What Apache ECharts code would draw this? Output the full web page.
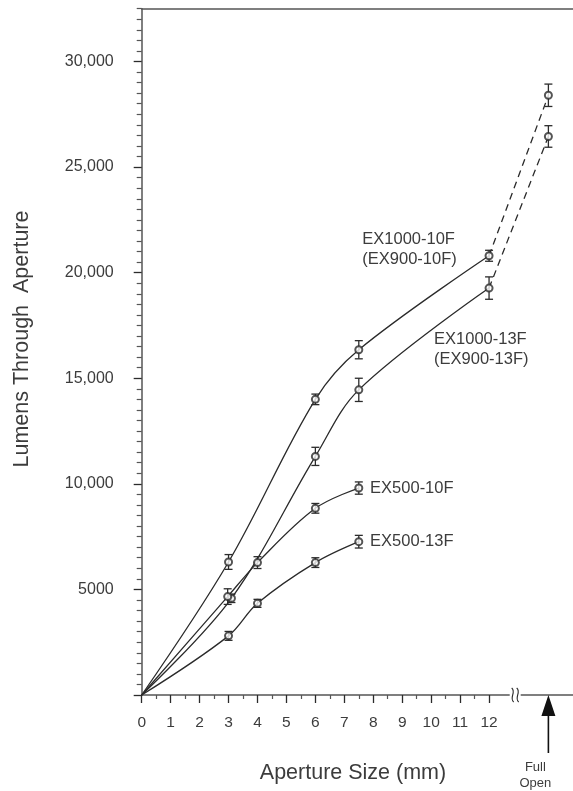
<!DOCTYPE html>
<html>
<head>
<meta charset="utf-8">
<script src="https://cdn.jsdelivr.net/npm/echarts@6/dist/echarts.min.js"></script>
<style>
html,body{margin:0;padding:0;background:#fff;}
#chart{width:573px;height:791px;}
</style>
</head>
<body>
<div id="chart"></div>
<script>
// ---- data ----
const xTickValues = [0,1,2,3,4,5,6,7,8,9,10,11,12];
const xMinorTickValues = [0.5,1.5,2.5,3.5,4.5,5.5,6.5,7.5,8.5,9.5,10.5,11.5];
const yTickValues = [0,5000,10000,15000,20000,25000,30000];
const yTickLabels = ['', '5000', '10,000', '15,000', '20,000', '25,000', '30,000'];
const fullOpenX = 14.05;

const apertureSizes_EX1000_10F = [0, 3, 6, 7.5, 12];
const lumens_EX1000_10F = [0, 6300, 14000, 16350, 20800];
const errors_EX1000_10F = [0, 350, 250, 430, 260];
const fullOpen_EX1000_10F = 28400;
const fullOpenErr_EX1000_10F = 530;

const apertureSizes_EX1000_13F = [0, 3.1, 6, 7.5, 12];
const lumens_EX1000_13F = [0, 4580, 11300, 14450, 19270];
const errors_EX1000_13F = [0, 200, 430, 550, 530];
const fullOpen_EX1000_13F = 26450;
const fullOpenErr_EX1000_13F = 510;

const apertureSizes_EX500_10F = [0, 2.97, 4, 6, 7.5];
const lumens_EX500_10F = [0, 4660, 6270, 8840, 9800];
const errors_EX500_10F = [0, 370, 280, 230, 290];

const apertureSizes_EX500_13F = [0, 3, 4, 6, 7.5];
const lumens_EX500_13F = [0, 2800, 4340, 6270, 7260];
const errors_EX500_13F = [0, 210, 190, 230, 300];

// label anchors (data space: x, y of first line centre)
const seriesLabels = [
  {lines: ['EX1000-10F', '(EX900-10F)'], x: 7.62, y: 21550},
  {lines: ['EX1000-13F', '(EX900-13F)'], x: 10.1, y: 16820},
  {lines: ['EX500-10F'], x: 7.89, y: 9780},
  {lines: ['EX500-13F'], x: 7.89, y: 7280}
];

// ---- build ----
const INK = '#2b2b2b';
const TXT = '#3c3c3c';
const FONT = '"Liberation Sans", Arial, Helvetica, sans-serif';

function pairs(xs, ys) { return xs.map((x, i) => [x, ys[i]]); }
function triples(xs, ys, es) { return xs.map((x, i) => [x, ys[i], es[i]]).filter(d => d[0] > 0); }

const groups = [
  {x: apertureSizes_EX1000_10F, y: lumens_EX1000_10F, e: errors_EX1000_10F, fo: fullOpen_EX1000_10F, foe: fullOpenErr_EX1000_10F},
  {x: apertureSizes_EX1000_13F, y: lumens_EX1000_13F, e: errors_EX1000_13F, fo: fullOpen_EX1000_13F, foe: fullOpenErr_EX1000_13F},
  {x: apertureSizes_EX500_10F, y: lumens_EX500_10F, e: errors_EX500_10F},
  {x: apertureSizes_EX500_13F, y: lumens_EX500_13F, e: errors_EX500_13F}
];

const series = [];
groups.forEach((g) => {
  series.push({
    type: 'line', data: pairs(g.x, g.y), smooth: 0.35, symbol: 'none', z: 2,
    lineStyle: {color: INK, width: 1.3}, silent: true
  });
  let pts = triples(g.x, g.y, g.e);
  if (g.fo !== undefined) {
    const lastX = g.x[g.x.length - 1], lastY = g.y[g.y.length - 1];
    series.push({
      type: 'line', data: [[lastX, lastY], [fullOpenX, g.fo]], symbol: 'none', z: 2,
      lineStyle: {color: INK, width: 1.3, type: [7, 5]}, silent: true
    });
    pts = pts.concat([[fullOpenX, g.fo, g.foe]]);
  }
  series.push({
    type: 'custom', data: pts, z: 3, silent: true,
    renderItem: function (params, api) {
      const x = api.value(0), y = api.value(1), e = api.value(2);
      const t = api.coord([x, y + e]), b = api.coord([x, y - e]);
      const st = {stroke: INK, lineWidth: 1.3};
      return {type: 'group', children: [
        {type: 'line', shape: {x1: t[0], y1: t[1], x2: b[0], y2: b[1]}, style: st},
        {type: 'line', shape: {x1: t[0] - 4, y1: t[1], x2: t[0] + 4, y2: t[1]}, style: st},
        {type: 'line', shape: {x1: b[0] - 4, y1: b[1], x2: b[0] + 4, y2: b[1]}, style: st}
      ]};
    }
  });
  series.push({
    type: 'scatter', data: pts.map(p => [p[0], p[1]]), symbol: 'emptyCircle', symbolSize: 7, z: 4, silent: true,
    itemStyle: {color: INK, borderColor: INK, borderWidth: 1.3}
  });
});

const chart = echarts.init(document.getElementById('chart'), null, {renderer: 'canvas'});
const axisLineStyle = {color: '#555', width: 1.5};
chart.setOption({
  animation: false,
  backgroundColor: '#fff',
  grid: {left: 141.7, right: 0, top: 8.7, bottom: 96},
  xAxis: [
    {type: 'value', min: 0, max: 14.9, position: 'bottom',
     axisLine: {show: true, lineStyle: axisLineStyle},
     axisTick: {show: true, customValues: xTickValues, length: 8, lineStyle: {color: INK, width: 1.3}},
     axisLabel: {show: true, customValues: xTickValues, margin: 20, color: TXT, fontSize: 15.5, fontFamily: FONT},
     splitLine: {show: false}},
    {type: 'value', min: 0, max: 14.9, position: 'bottom', offset: 0,
     axisLine: {show: false},
     axisTick: {show: true, customValues: xMinorTickValues, length: 4, lineStyle: {color: '#555', width: 1.2}},
     axisLabel: {show: false}, splitLine: {show: false}},
    {type: 'value', min: 0, max: 14.9, position: 'top',
     axisLine: {show: true, lineStyle: axisLineStyle},
     axisTick: {show: false}, axisLabel: {show: false}, splitLine: {show: false}}
  ],
  yAxis: [
    {type: 'value', min: 0, max: 32500, position: 'left',
     axisLine: {show: true, lineStyle: axisLineStyle},
     axisTick: {show: true, customValues: yTickValues, length: 8, lineStyle: {color: INK, width: 1.3}},
     axisLabel: {show: true, customValues: yTickValues, margin: 28, color: TXT, fontSize: 16, fontFamily: FONT,
       formatter: function (v) { const i = yTickValues.indexOf(v); return i >= 0 ? yTickLabels[i] : ''; }},
     splitLine: {show: false}},
    {type: 'value', min: 0, max: 32500, position: 'left', offset: 0,
     axisLine: {show: false},
     axisTick: {show: true, customValues: Array.from({length: 65}, (_, i) => (i + 1) * 500).filter(v => v % 5000 !== 0), length: 5, lineStyle: {color: '#555', width: 1.2}},
     axisLabel: {show: false}, splitLine: {show: false}}
  ],
  series: series.map(s => Object.assign({xAxisIndex: 0, yAxisIndex: 0}, s))
});

function px(x, y) { return chart.convertToPixel({xAxisIndex: 0, yAxisIndex: 0}, [x, y]); }
const graphics = [];
// series labels
seriesLabels.forEach(l => {
  const p = px(l.x, l.y);
  l.lines.forEach((t, i) => {
    graphics.push({type: 'text', x: p[0], y: p[1] + i * 19.5, z: 10,
      style: {text: t, fill: TXT, font: '16.5px ' + FONT, textAlign: 'left', textVerticalAlign: 'middle'}});
  });
});
// axis break mark
const bp = px(12.92, 0);
graphics.push({type: 'rect', shape: {x: bp[0] - 6, y: bp[1] - 3, width: 11, height: 6}, style: {fill: '#fff'}, z: 10});
[-3, 2].forEach(dx => {
  const cx = bp[0] + dx;
  graphics.push({type: 'bezierCurve', z: 11,
    shape: {x1: cx - 1, y1: bp[1] - 7, cpx1: cx + 4, cpy1: bp[1] - 3, cpx2: cx - 4, cpy2: bp[1] + 3, x2: cx + 1, y2: bp[1] + 7},
    style: {stroke: INK, lineWidth: 1.1, fill: null}});
});
// full open arrow
const fp = px(fullOpenX, 0);
graphics.push({type: 'line', shape: {x1: fp[0], y1: fp[1] + 18, x2: fp[0], y2: fp[1] + 58}, style: {stroke: '#111', lineWidth: 1.6}, z: 10});
graphics.push({type: 'polygon', shape: {points: [[fp[0], fp[1]], [fp[0] - 7, fp[1] + 21], [fp[0] + 7, fp[1] + 21]]}, style: {fill: '#111'}, z: 10});
graphics.push({type: 'text', x: fp[0] - 13, y: fp[1] + 72, z: 10, style: {text: 'Full', fill: TXT, font: '13px ' + FONT, textAlign: 'center', textVerticalAlign: 'middle'}});
graphics.push({type: 'text', x: fp[0] - 13, y: fp[1] + 88, z: 10, style: {text: 'Open', fill: TXT, font: '13px ' + FONT, textAlign: 'center', textVerticalAlign: 'middle'}});
// axis titles
graphics.push({type: 'text', x: 353, y: 773, z: 10, style: {text: 'Aperture Size (mm)', fill: TXT, font: '21.5px ' + FONT, textAlign: 'center', textVerticalAlign: 'middle'}});
graphics.push({type: 'text', x: 22, y: 339, rotation: Math.PI / 2, z: 10, style: {text: 'Lumens Through  Aperture', fill: TXT, font: '21.5px ' + FONT, textAlign: 'center', textVerticalAlign: 'middle'}});
chart.setOption({graphic: graphics});
</script>
</body>
</html>
